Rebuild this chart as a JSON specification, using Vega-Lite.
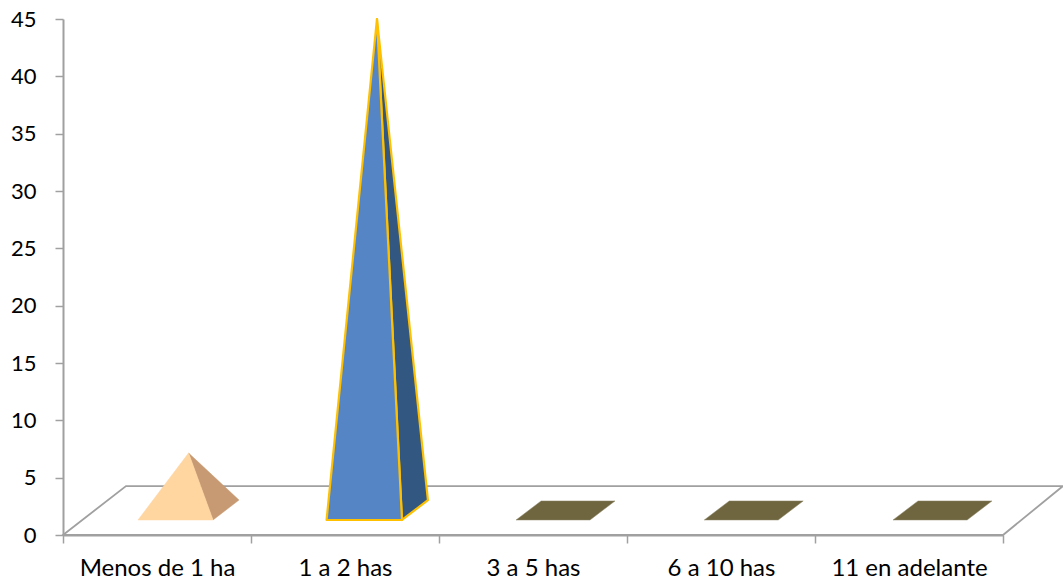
{
"$schema":"https://vega.github.io/schema/vega-lite/v6.json",
"width":1000,"height":516,
"autosize":"none",
"padding":{"left":63,"top":19,"right":0,"bottom":46},
"background":"white",
"config":{"view":{"stroke":null}},
"datasets":{
"totals":[
{"categoria":"Menos de 1 ha","valor":7},
{"categoria":"1 a 2 has","valor":45},
{"categoria":"3 a 5 has","valor":0},
{"categoria":"6 a 10 has","valor":0},
{"categoria":"11 en adelante","valor":0}],
"suelo":[
{"x":0,"y":0,"y2":0},
{"x":0.335,"y":4.27,"y2":0},
{"x":5,"y":4.27,"y2":0},
{"x":5.319,"y":4.27,"y2":4.27}],
"uno":[
{"parte":"uno_lado","x":1.670,"y":45.0,"y2":45.0},
{"parte":"uno_lado","x":1.803,"y":24.5,"y2":1.31},
{"parte":"uno_lado","x":1.941,"y":3.05,"y2":3.05},
{"parte":"uno_frente","x":1.402,"y":1.31,"y2":1.31},
{"parte":"uno_frente","x":1.670,"y":45.0,"y2":1.31},
{"parte":"uno_frente","x":1.803,"y":1.31,"y2":1.31}],
"caras":[
{"parte":"menos_lado","x":0.668,"y":7.15,"y2":7.15},
{"parte":"menos_lado","x":0.798,"y":5.16,"y2":1.31},
{"parte":"menos_lado","x":0.936,"y":3.05,"y2":3.05},
{"parte":"menos_frente","x":0.399,"y":1.31,"y2":1.31},
{"parte":"menos_frente","x":0.668,"y":7.15,"y2":1.31},
{"parte":"menos_frente","x":0.798,"y":1.31,"y2":1.31},
{"parte":"tres","x":2.410,"y":1.31,"y2":1.31},
{"parte":"tres","x":2.543,"y":2.97,"y2":1.31},
{"parte":"tres","x":2.803,"y":2.97,"y2":1.31},
{"parte":"tres","x":2.936,"y":2.97,"y2":2.97},
{"parte":"seis","x":3.411,"y":1.31,"y2":1.31},
{"parte":"seis","x":3.544,"y":2.97,"y2":1.31},
{"parte":"seis","x":3.804,"y":2.97,"y2":1.31},
{"parte":"seis","x":3.937,"y":2.97,"y2":2.97},
{"parte":"once","x":4.415,"y":1.31,"y2":1.31},
{"parte":"once","x":4.548,"y":2.97,"y2":1.31},
{"parte":"once","x":4.809,"y":2.97,"y2":1.31},
{"parte":"once","x":4.941,"y":2.97,"y2":2.97}]
},
"resolve":{"scale":{"x":"independent","fill":"independent","stroke":"independent"}},
"layer":[
{"data":{"name":"totals"},
 "mark":{"type":"bar","opacity":0},
 "encoding":{
  "x":{"field":"categoria","type":"nominal","sort":null,
   "scale":{"type":"band","range":[0,940],"paddingInner":0,"paddingOuter":0},
   "axis":{"orient":"bottom","title":null,"labelAngle":0,"tickBand":"extent","domainColor":"#A0A0A0","domainWidth":2,"tickColor":"#A0A0A0","tickWidth":1.5,"tickSize":8,"labelFont":"Lato","labelFontSize":24,"labelColor":"#000000","labelPadding":13,"grid":false}},
  "y":{"field":"valor","type":"quantitative",
   "scale":{"domain":[0,45],"nice":false},
   "axis":{"title":null,"values":[0,5,10,15,20,25,30,35,40,45],"domainColor":"#A0A0A0","domainWidth":2,"tickColor":"#A0A0A0","tickWidth":1.5,"tickSize":8,"labelFont":"Lato","labelFontSize":22,"labelColor":"#000000","labelPadding":19,"grid":false}}
 }},
{"data":{"name":"suelo"},
 "mark":{"type":"area","fill":"#FFFFFF","fillOpacity":0,"stroke":"#A0A0A0","strokeWidth":1.8,"clip":false},
 "encoding":{
  "x":{"field":"x","type":"quantitative","scale":{"domain":[0,5.319],"nice":false,"zero":false},"axis":null},
  "y":{"field":"y","type":"quantitative"},
  "y2":{"field":"y2"}
 }},
{"data":{"name":"caras"},
 "mark":{"type":"area","strokeWidth":0.5,"clip":false},
 "encoding":{
  "x":{"field":"x","type":"quantitative","scale":{"domain":[0,5.319],"nice":false,"zero":false},"axis":null},
  "y":{"field":"y","type":"quantitative"},
  "y2":{"field":"y2"},
  "detail":{"field":"parte"},
  "fill":{"field":"parte","type":"nominal","legend":null,
   "scale":{"domain":["menos_lado","menos_frente","tres","seis","once"],
    "range":["#C79A73","#FFD5A0","#6F6640","#6F6640","#6F6640"]}},
  "stroke":{"field":"parte","type":"nominal","legend":null,
   "scale":{"domain":["menos_lado","menos_frente","tres","seis","once"],
    "range":["#C79A73","#FFD5A0","#8C8766","#8C8766","#8C8766"]}}
 }},
{"data":{"name":"uno"},
 "mark":{"type":"area","stroke":"#FFC000","strokeWidth":2.2,"strokeJoin":"round","clip":false},
 "encoding":{
  "x":{"field":"x","type":"quantitative","scale":{"domain":[0,5.319],"nice":false,"zero":false},"axis":null},
  "y":{"field":"y","type":"quantitative"},
  "y2":{"field":"y2"},
  "detail":{"field":"parte"},
  "fill":{"field":"parte","type":"nominal","legend":null,
   "scale":{"domain":["uno_lado","uno_frente"],"range":["#325780","#5585C5"]}}
 }}
]
}
